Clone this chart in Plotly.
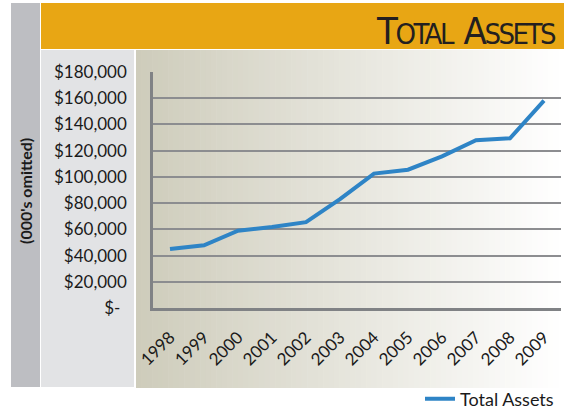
import plotly.graph_objects as go

years = ["1998", "1999", "2000", "2001", "2002", "2003", "2004", "2005", "2006", "2007", "2008", "2009"]
total_assets = [45000, 47800, 59000, 61800, 65500, 83000, 102500, 105500, 115700, 128000, 129400, 158200]
y_tick_vals = [0, 20000, 40000, 60000, 80000, 100000, 120000, 140000, 160000, 180000]
y_tick_text = ["$-\u00a0\u2009", "$20,000", "$40,000", "$60,000", "$80,000", "$100,000",
               "$120,000", "$140,000", "$160,000", "$180,000"]

W, H = 569, 409
L, R, T, B = 153, 8, 72, 101
PW, PH = W - L - R, H - T - B


def px(x):
    return (x - L) / PW


def py(y):
    return (H - B - y) / PH


shapes = []
# grey side bar
shapes.append(dict(type="rect", xref="paper", yref="paper", x0=px(11), x1=px(40), y0=py(387), y1=py(3),
                   fillcolor="#bdbec2", line_width=0, layer="below"))
# orange header
shapes.append(dict(type="rect", xref="paper", yref="paper", x0=px(41), x1=px(564), y0=py(49), y1=py(3),
                   fillcolor="#e8a614", line_width=0, layer="below"))
# light grey label panel
shapes.append(dict(type="rect", xref="paper", yref="paper", x0=px(41), x1=px(134), y0=py(387), y1=py(50),
                   fillcolor="#e2e3e5", line_width=0, layer="below"))
# gradient panel (strips)
n = 80
x_start, x_end = 136, 564
c0 = (206, 204, 187)
c1 = (255, 255, 255)
for i in range(n):
    t = i / (n - 1)
    col = "rgb(%d,%d,%d)" % tuple(round(c0[k] + (c1[k] - c0[k]) * t) for k in range(3))
    xa = x_start + (x_end - x_start) * i / n
    xb = x_start + (x_end - x_start) * (i + 1) / n + 0.6
    shapes.append(dict(type="rect", xref="paper", yref="paper", x0=px(xa), x1=px(min(xb, x_end)),
                       y0=py(388), y1=py(50), fillcolor=col, line_width=0, layer="below"))

fig = go.Figure()
fig.add_trace(go.Scatter(x=years, y=total_assets, mode="lines", name="Total Assets",
                         line=dict(color="#2e84c6", width=4)))

TITLE_FONT = "Liberation Sans Narrow, DejaVu Sans Condensed, Roboto, sans-serif"

fig.update_layout(
    width=W, height=H,
    margin=dict(l=L, r=R, t=T, b=B, autoexpand=False),
    paper_bgcolor="white",
    plot_bgcolor="rgba(0,0,0,0)",
    font=dict(family="Lato, Open Sans, sans-serif", size=17, color="#1a1a1a"),
    shapes=shapes,
    showlegend=True,
    legend=dict(orientation="h", x=px(559), xanchor="right", y=py(399), yanchor="middle",
                bgcolor="rgba(0,0,0,0)", font=dict(size=18, color="#1a1a1a")),
    annotations=[
        dict(xref="paper", yref="paper", x=px(558), y=py(31), xanchor="right", yanchor="middle",
             showarrow=False,
             text="<span style='letter-spacing:-2.5px'><span style='font-size:38px'>T</span>OTAL\u00a0\u00a0"
                  "<span style='font-size:38px'>A</span>SSETS</span>",
             font=dict(size=29, color="#231f20", family=TITLE_FONT)),
        dict(xref="paper", yref="paper", x=px(25), y=py(191), xanchor="center", yanchor="middle",
             showarrow=False, textangle=-90, text="<b>(000's omitted)</b>",
             font=dict(size=16, color="#1a1a1a")),
    ],
)

fig.update_xaxes(type="category", range=[-0.5, len(years) - 0.5], showgrid=False, showline=True,
                 linecolor="#808285", linewidth=2.5, ticks="", tickangle=-45, ticklabelstandoff=10,
                 zeroline=False, automargin=False, tickfont=dict(size=17))
fig.update_yaxes(range=[0, 180000], tickmode="array", tickvals=y_tick_vals, ticktext=y_tick_text,
                 showgrid=True, gridcolor="#8c8d90", gridwidth=1.5, showline=True, linecolor="#808285",
                 linewidth=2.5, zeroline=False, ticks="", ticklabelstandoff=20, automargin=False,
                 tickfont=dict(size=17))

fig.write_html("out.html")
